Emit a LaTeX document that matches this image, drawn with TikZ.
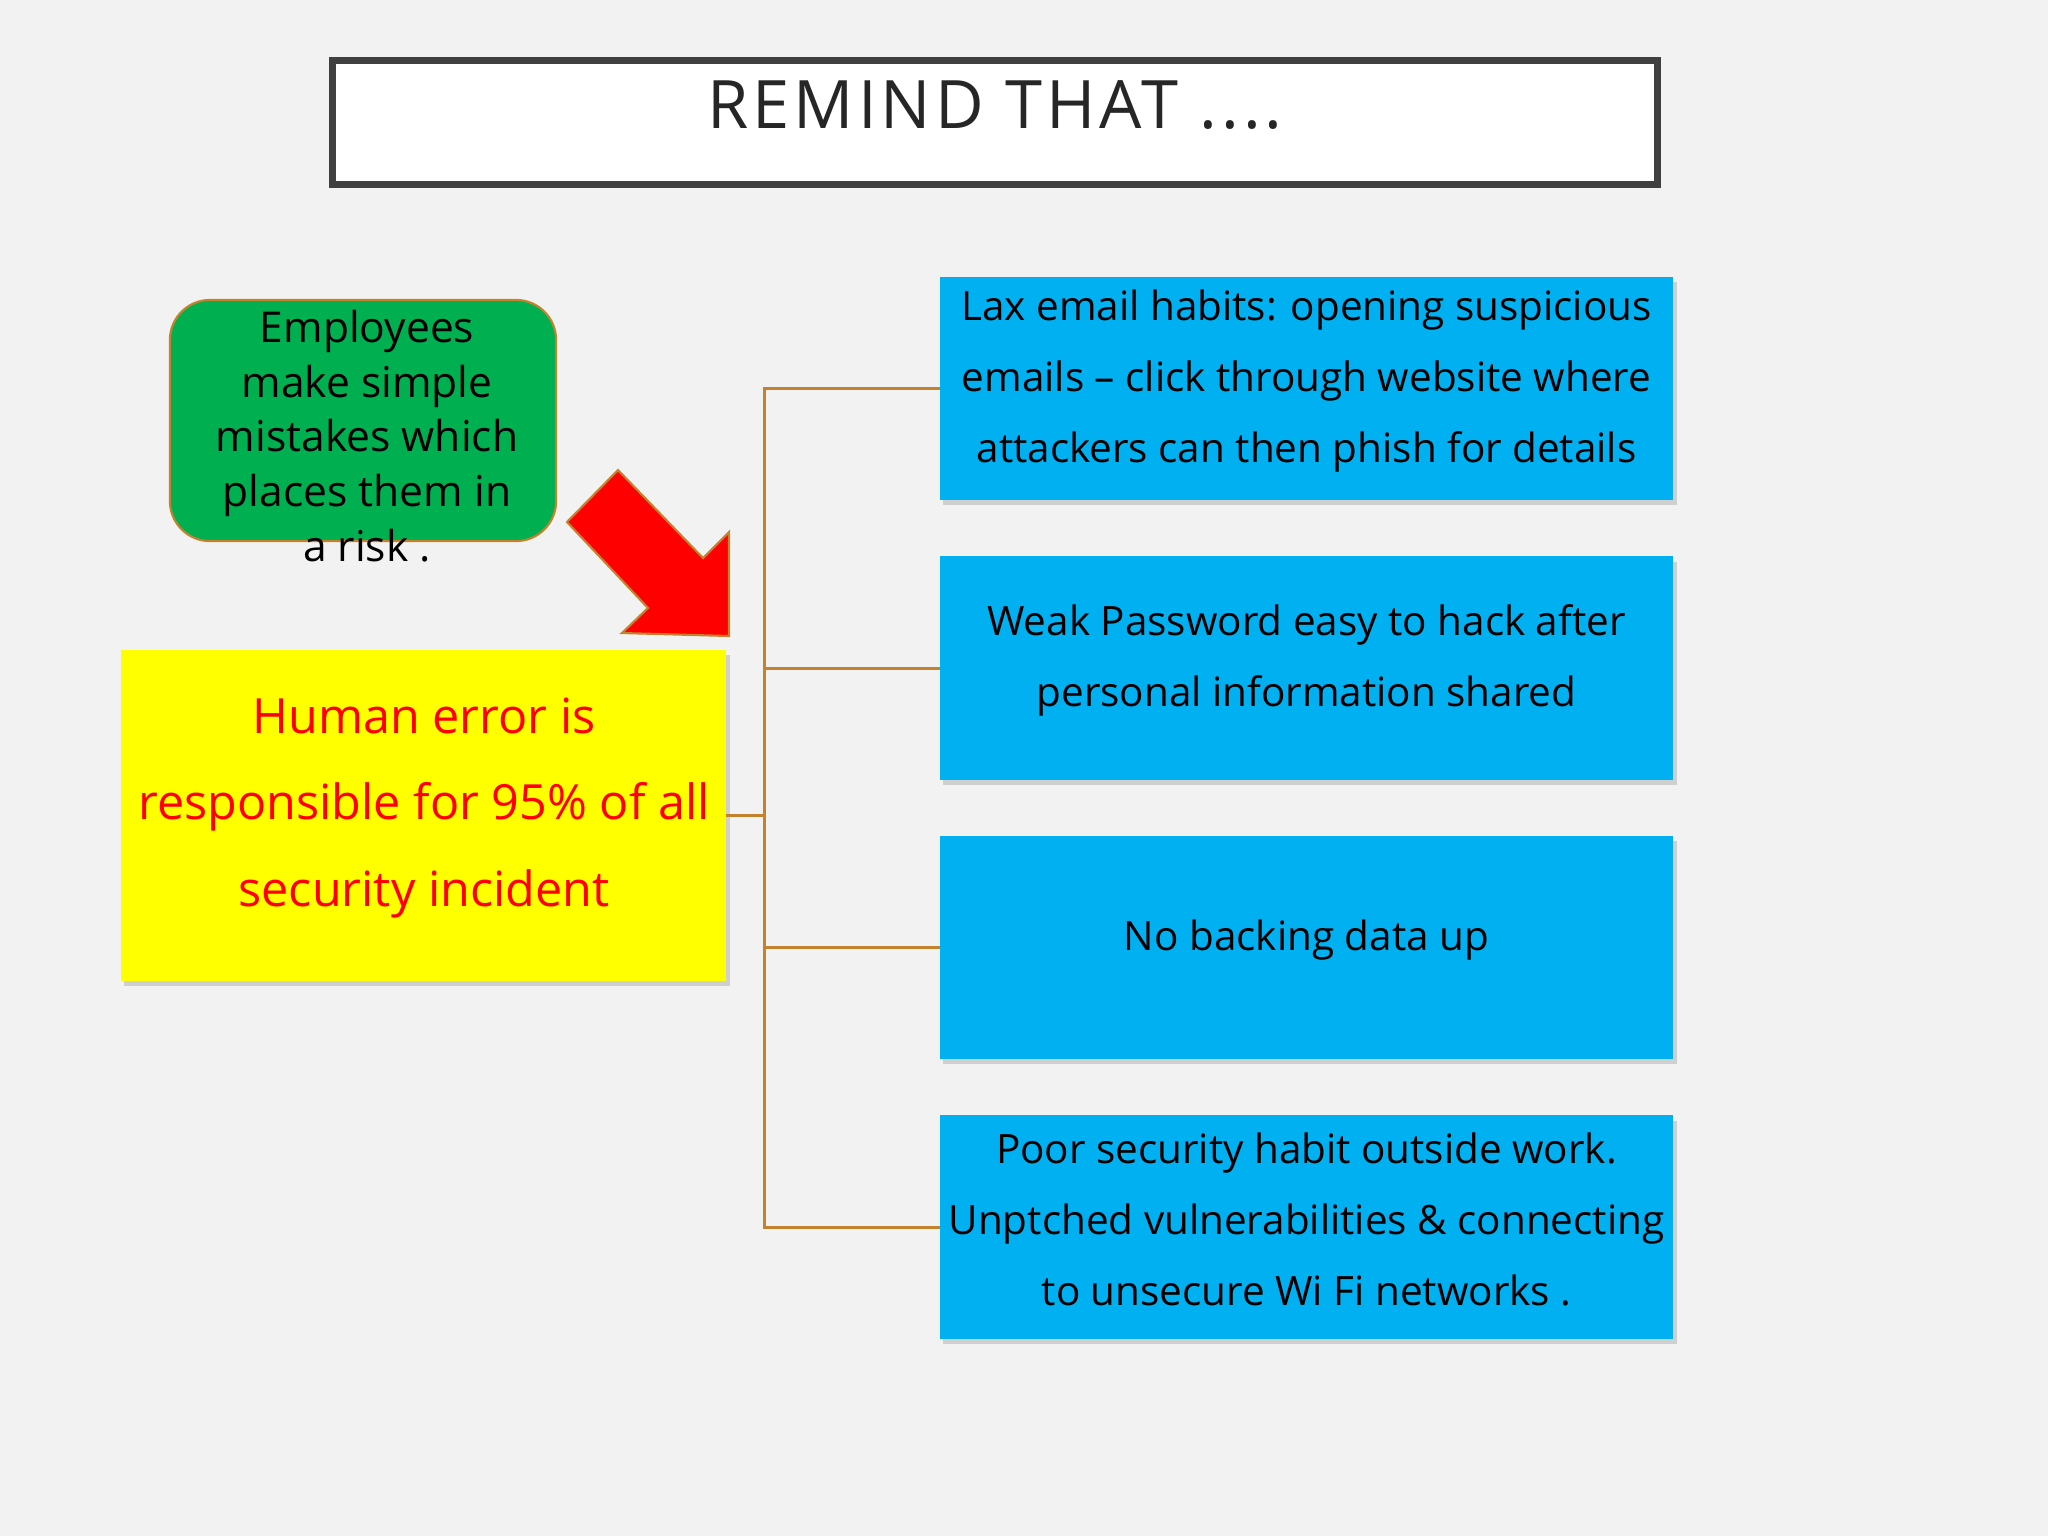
\documentclass[tikz,border=0pt]{standalone}
\usepackage{fontspec}
\setmainfont{Open Sans}
\newfontfamily\titlefont[LetterSpace=6]{Open Sans}
\usetikzlibrary{shadows}

\definecolor{slidebg}{HTML}{F2F2F2}
\definecolor{titlegray}{HTML}{404040}
\definecolor{titletext}{HTML}{262626}
\definecolor{empgreen}{HTML}{00B050}
\definecolor{boxblue}{HTML}{00B0F0}
\definecolor{humanyellow}{HTML}{FFFF00}
\definecolor{arrowred}{HTML}{FF0000}
\definecolor{linkbrown}{RGB}{196,130,45}

\begin{document}
\begin{tikzpicture}[x=0.01cm, y=-0.01cm,
	box/.style={rectangle, fill=boxblue, outer sep=0pt,
		minimum width=7.33cm, minimum height=2.23cm,
		drop shadow={shadow xshift=1pt, shadow yshift=-1.5pt, opacity=0.3}},
	boxtext/.style={align=center, font=\fontsize{11.5}{20.2}\selectfont},
	link/.style={draw=linkbrown, line width=0.85pt}]

	\fill[slidebg] (0,0) rectangle (2048,1536);
	\useasboundingbox (0,0) rectangle (2048,1536);

	\node[draw=titlegray, line width=2pt, fill=white,
		minimum width=13.25cm, minimum height=1.24cm] (titlebox) at (995,122.5) {};
	\node[anchor=base, text=titletext, font=\titlefont\fontsize{19}{23}\selectfont]
		(title) at (995,128) {REMIND THAT ....};

	\node[draw=linkbrown, line width=0.6pt, fill=empgreen, rounded corners=0.4cm,
		minimum width=3.86cm, minimum height=2.41cm] (employees) at (363,420.5) {};
	\node[align=center, font=\fontsize{12.1}{15.6}\selectfont]
		(emptext) at (367,436)
		{Employees\\make simple\\mistakes which\\places them in\\a risk .};

	\draw[fill=arrowred, draw=linkbrown, line width=0.6pt]
		(618,470) -- (703,558) -- (729,532) -- (729,636)
		-- (622,633) -- (648,608) -- (567,522) -- cycle;

	\node[fill=humanyellow, outer sep=0pt, minimum width=6.05cm, minimum height=3.31cm,
		drop shadow={shadow xshift=1pt, shadow yshift=-1.5pt, opacity=0.3}]
		(human) at (423.5,815.5) {};
	\node[align=center, text=arrowred, font=\fontsize{13.8}{24.5}\selectfont]
		(humantext) at (424,808)
		{Human error is\\responsible for 95\% of all\\security incident};

	\foreach \name/\y in {email/388.5, weak/668, backup/947.5, poor/1227}
		\node[box] (\name) at (1306.5,\y) {};

	\node[boxtext] (emailtext) at ([yshift=0.075cm]email.center)
		{Lax email habits: opening suspicious\\emails -- click through website where\\attackers can then phish for details};
	\node[boxtext] (weaktext) at ([yshift=0.075cm]weak.center)
		{Weak Password easy to hack after\\personal information shared};
	\node[boxtext] (backuptext) at ([yshift=0.075cm]backup.center)
		{No backing data up};
	\node[boxtext] (poortext) at ([yshift=0.075cm]poor.center)
		{Poor security habit outside work.\\Unptched vulnerabilities \& connecting\\to unsecure Wi Fi networks .};

	\coordinate (trunk) at (764,815.5);
	\draw[link] (human.east) -- (trunk);
	\foreach \name in {email, weak, backup, poor}
		\draw[link] (trunk) |- (\name.west);
\end{tikzpicture}
\end{document}
